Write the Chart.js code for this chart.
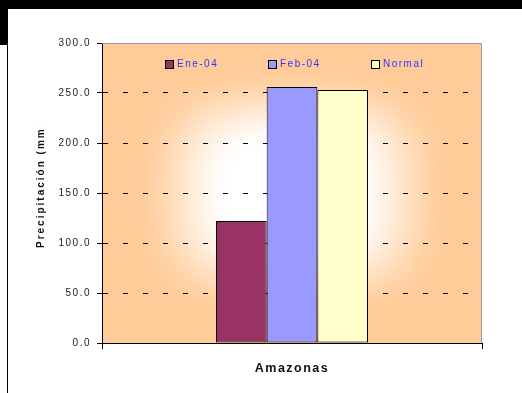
<!DOCTYPE html>
<html lang="es">
<head>
<meta charset="UTF-8">
<title>Precipitación Amazonas</title>
<script src="https://cdn.jsdelivr.net/npm/chart.js@4.4.0/dist/chart.umd.min.js"></script>
<style>
    body { margin: 0; background: #fff; }
    #wrap { position: relative; width: 522px; height: 393px; }
</style>
</head>
<body>
<div id="wrap"><canvas id="myChart" width="522" height="393"></canvas></div>
<script>
// datos
const categorias = ['Amazonas'];
const series = ['Ene-04', 'Feb-04', 'Normal'];
const ene04 = [122];
const feb04 = [256];
const normal = [253];
const colores = ['#993366', '#9999FF', '#FFFFCC'];
const yTicks = [0, 50, 100, 150, 200, 250, 300];
const yTitulo = 'Precipitación (mm)';

// fondo: marco negro, degradado del area de trazado, borde gris
const fondo = {
    id: 'fondo',
    beforeDraw(chart) {
        const c = chart.ctx, a = chart.chartArea;
        c.save();
        c.fillStyle = '#fff';
        c.fillRect(0, 0, chart.width, chart.height);
        c.fillStyle = '#000';
        c.fillRect(0, 0, chart.width, 9);
        c.fillRect(0, 0, 8, 45);
        c.fillRect(7, 45, 1, chart.height - 45);

        // degradado "desde el centro"
        const w = Math.round(a.right - a.left), h = Math.round(a.bottom - a.top);
        const img = c.createImageData(w, h);
        const cx = w / 2, cy = h / 2;
        for (let y = 0; y < h; y++) {
            for (let x = 0; x < w; x++) {
                const u = Math.abs(x - cx) / cx, v = Math.abs(y - cy) / cy;
                const t = Math.pow(Math.pow(u, 3) + Math.pow(v, 3), 1 / 3);
                let f = (t - 0.3) / 0.55;
                f = Math.max(0, Math.min(1, f));
                f = f * f * (3 - 2 * f);
                const i = (y * w + x) * 4;
                img.data[i] = 255;
                img.data[i + 1] = Math.round(255 - 51 * f);
                img.data[i + 2] = Math.round(255 - 102 * f);
                img.data[i + 3] = 255;
            }
        }
        c.putImageData(img, Math.round(a.left), Math.round(a.top));
        c.restore();
        c.letterSpacing = '1.5px';
    },
    afterDraw(chart) {
        const c = chart.ctx, a = chart.chartArea;
        c.save();
        c.strokeStyle = '#999';
        c.lineWidth = 1;
        c.beginPath();
        c.moveTo(a.left, a.top + 0.5);
        c.lineTo(a.right - 0.5, a.top + 0.5);
        c.lineTo(a.right - 0.5, a.bottom);
        c.stroke();

        // leyenda
        c.font = '10px "Liberation Sans", Arial, sans-serif';
        c.letterSpacing = '1.5px';
        c.textBaseline = 'middle';
        c.textAlign = 'left';
        for (let i = 0; i < series.length; i++) {
            const x = a.left + 63 + i * 103, y = a.top + 17;
            c.fillStyle = colores[i];
            c.fillRect(x, y, 9, 9);
            c.strokeStyle = '#000';
            c.strokeRect(x + 0.5, y + 0.5, 8, 8);
            c.fillStyle = '#3333FF';
            c.fillText(series[i], x + 12, y + 4);
        }

        // titulo eje y (recortado como en el original)
        c.font = 'bold 10px "Liberation Sans", Arial, sans-serif';
        c.letterSpacing = '2px';
        c.fillStyle = '#111';
        c.beginPath();
        c.rect(0, 127, 80, 200);
        c.clip();
        c.translate(41, 248);
        c.rotate(-Math.PI / 2);
        c.textAlign = 'left';
        c.textBaseline = 'middle';
        c.fillText(yTitulo, 0, 0);
        c.restore();
    }
};

const ctx = document.getElementById('myChart').getContext('2d');
const myChart = new Chart(ctx, {
    type: 'bar',
    data: {
        labels: categorias,
        datasets: [
            { label: series[0], data: ene04, backgroundColor: colores[0] },
            { label: series[1], data: feb04, backgroundColor: colores[1] },
            { label: series[2], data: normal, backgroundColor: colores[2] }
        ].map(d => Object.assign(d, {
            borderColor: '#000', borderWidth: 1, borderSkipped: false,
            categoryPercentage: 0.4, barPercentage: 1
        }))
    },
    options: {
        responsive: false,
        animation: false,
        events: [],
        layout: { padding: { left: 0, top: 43, right: 40, bottom: 0 } },
        plugins: { legend: { display: false }, tooltip: { enabled: false } },
        scales: {
            x: {
                offset: true,
                afterFit(s) { s.height = 50; },
                grid: { offset: true, drawOnChartArea: false, tickLength: 6, color: '#000' },
                border: { color: '#000', width: 1 },
                ticks: {
                    padding: 12, color: '#111',
                    font: { family: '"Liberation Sans", Arial, sans-serif', size: 12.5, weight: 'bold' }
                }
            },
            y: {
                min: 0, max: 300,
                afterFit(s) { s.width = 102; },
                afterBuildTicks(s) { s.ticks = yTicks.map(v => ({ value: v })); },
                grid: { color: '#000', tickLength: 5, tickColor: '#000' },
                border: { color: '#000', width: 1, dash: [5, 15], dashOffset: 0 },
                ticks: {
                    padding: 6, color: '#222',
                    font: { family: '"Liberation Sans", Arial, sans-serif', size: 10 },
                    callback: v => v.toFixed(1)
                }
            }
        }
    },
    plugins: [fondo]
});
</script>
</body>
</html>
